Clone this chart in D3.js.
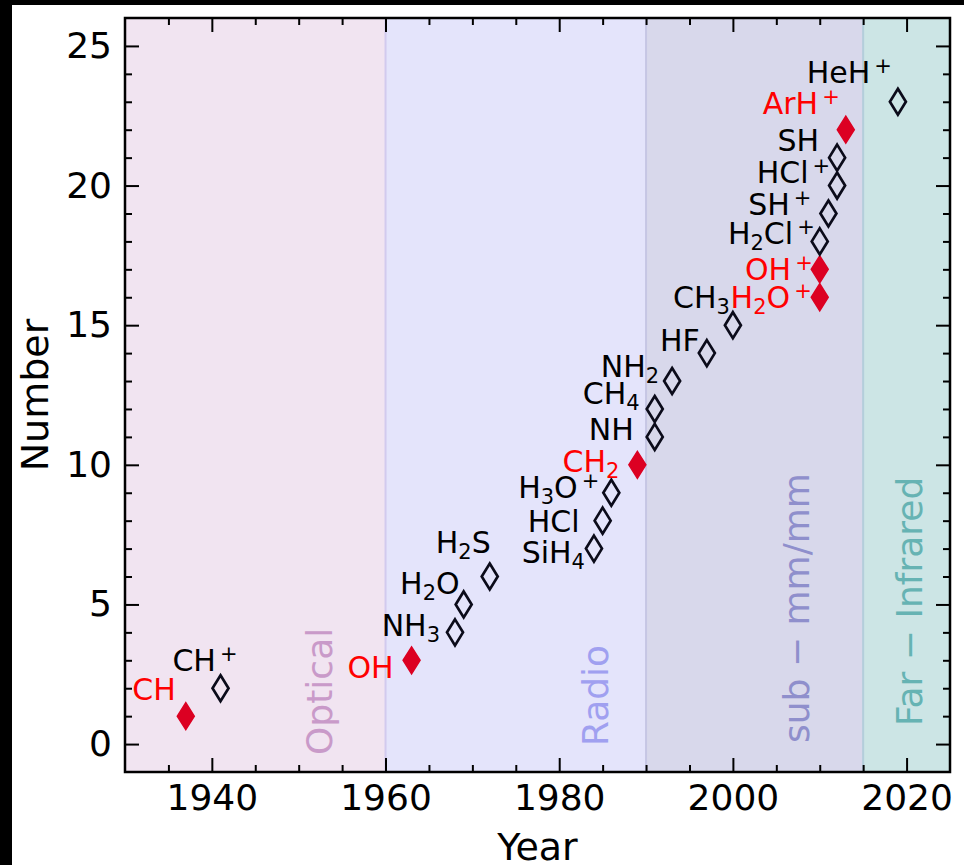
<!DOCTYPE html>
<html>
<head>
<meta charset="utf-8">
<script src="https://cdn.jsdelivr.net/npm/d3@7"></script>
<style>
  html, body { margin: 0; padding: 0; background: #000; }
  svg { display: block; }
  text { font-family: "DejaVu Sans", sans-serif; }
</style>
</head>
<body>
<svg id="chart" width="964" height="865"></svg>
<script>
// Hydride detections in the interstellar medium: year vs running count
const years   = [1937, 1941, 1963, 1968, 1969, 1972, 1984, 1985, 1986, 1989, 1991, 1991,
                 1993, 1997, 2000, 2010, 2010, 2010, 2011, 2012, 2012, 2013, 2019];
const counts  = [1, 2, 3, 4, 5, 6, 7, 8, 9, 10, 11, 12, 13, 14, 15, 16, 17, 18, 19, 20, 21, 22, 23];
const species = ["CH", "CH^+", "OH", "NH_3", "H_2O", "H_2S", "SiH_4", "HCl", "H_3O^+", "CH_2",
                 "NH", "CH_4", "NH_2", "HF", "CH_3", "H_2O^+", "OH^+", "H_2Cl^+", "SH^+",
                 "HCl^+", "SH", "ArH^+", "HeH^+"];
const highlighted = [true, false, true, false, false, false, false, false, false, true, false, false,
                     false, false, false, true, true, false, false, false, false, true, false];

// Spectral windows used for the detections
const bandNames = ["Optical", "Radio", "sub \u2212 mm/mm", "Far \u2212 Infrared"];
const bandStart = [1930, 1960, 1990, 2015];
const bandEnd   = [1960, 1990, 2015, 2025];

const xTicks = [1940, 1960, 1980, 2000, 2020];
const yTicks = [0, 5, 10, 15, 20, 25];

// ---- layout ----
const W = 964, H = 865;
const plot = { left: 125, right: 950, top: 18, bottom: 772 };
const bandFill   = ["#f1e4f1", "#e4e4fb", "#d8d8eb", "#cce5e5"];
const bandEdge   = [null, "#d2caee", "#c6c6e4", "#b4cedb"];
const bandText   = ["#c99ac9", "#a0a0f0", "#8f8fcc", "#66b3b3"];
// anchor of each rotated band caption, in data units [year, count]
const bandLabelAt = [[1953.8, -0.39], [1985.6, -0.07], [2008.8, 0.04], [2021.8, 0.65]];
// pixel nudges of each species label (right end, baseline) from its marker
const labelShift = [[-10, -16], [17, -17], [-18, 18], [-15, 4], [-4, -10], [1, -24], [-9, 14],
                    [-23, 11], [-12, 5], [-18, 7], [-21, 3], [-15, -5], [-13, -4], [-7, -2],
                    [-3, -17], [-8, 11], [-7, 11], [-5, 3], [-17, 2], [-7, -3], [-18, -7],
                    [-6, -16], [-6, -19]];

const svg = d3.select("#chart");
svg.append("rect").attr("x", 12).attr("y", 5).attr("width", W - 12).attr("height", H - 5).attr("fill", "#fff");

const x = d3.scaleLinear().domain([1930, 2025]).range([plot.left, plot.right]);
const y = d3.scaleLinear().domain([-1, 26]).range([plot.bottom, plot.top]);

// background bands
const bands = svg.append("g");
bandNames.forEach((name, i) => {
  bands.append("rect")
    .attr("x", x(bandStart[i])).attr("y", plot.top)
    .attr("width", x(bandEnd[i]) - x(bandStart[i]))
    .attr("height", plot.bottom - plot.top)
    .attr("fill", bandFill[i]);
});
bandNames.forEach((name, i) => {
  if (!bandEdge[i]) return;
  bands.append("line")
    .attr("x1", x(bandStart[i])).attr("x2", x(bandStart[i]))
    .attr("y1", plot.top).attr("y2", plot.bottom)
    .attr("stroke", bandEdge[i]).attr("stroke-width", 2);
});
bandNames.forEach((name, i) => {
  const [bx, by] = bandLabelAt[i];
  bands.append("text")
    .attr("transform", `translate(${x(bx)},${y(by)}) rotate(-90)`)
    .attr("font-size", 36)
    .attr("fill", bandText[i])
    .text(name);
});

// species markers
const diamond = (w, h) => `M0,${-h / 2}L${w / 2},0L0,${h / 2}L${-w / 2},0Z`;
const marks = svg.append("g");
years.forEach((yr, i) => {
  const p = marks.append("path")
    .attr("transform", `translate(${x(yr)},${y(counts[i])})`);
  if (highlighted[i]) {
    p.attr("d", diamond(17, 27)).attr("fill", "#dc0022").attr("stroke", "#dc0022").attr("stroke-width", 1.5);
  } else {
    p.attr("d", diamond(16, 26)).attr("fill", "none").attr("stroke", "#0b0b1a").attr("stroke-width", 2.7);
  }
});

// species labels with sub/superscripts; "_x" lowers one character, "^+" raises a plus
function addFormula(sel, formula) {
  const re = /([^_^]+)|_(\w)|\^(\+)/g;
  let m, carry = 0;
  while ((m = re.exec(formula)) !== null) {
    let ts;
    if (m[1]) {
      ts = sel.append("tspan").text(m[1]);
      if (carry) ts.attr("dy", carry);
      carry = 0;
    } else if (m[2]) {
      ts = sel.append("tspan").attr("font-size", 21).attr("dy", 6 + carry).text(m[2]);
      carry = -6;
    } else if (m[3]) {
      ts = sel.append("tspan").attr("font-size", 21).attr("dx", 4).attr("dy", -10 + carry).text("+");
      carry = 10;
    }
  }
}
const labels = svg.append("g");
years.forEach((yr, i) => {
  const t = labels.append("text")
    .attr("x", x(yr) + labelShift[i][0])
    .attr("y", y(counts[i]) + labelShift[i][1])
    .attr("text-anchor", "end")
    .attr("font-size", 30)
    .attr("fill", highlighted[i] ? "#ff0000" : "#000");
  addFormula(t, species[i]);
});

// axes: inward ticks on all four sides
const xMinor = d3.range(1935, 2025, 5).filter(v => !xTicks.includes(v));
const yMinor = d3.range(0, 26, 1).filter(v => !yTicks.includes(v));

function styleAxis(g) {
  g.select(".domain").remove();
  g.selectAll(".tick line").attr("stroke", "#000").attr("stroke-width", 2);
  g.selectAll(".tick text").attr("font-size", 36).attr("fill", "#000")
    .attr("font-family", "DejaVu Sans, sans-serif");
}
function noLabels(g) {
  g.selectAll(".tick text").remove();
}
const axes = svg.append("g");
axes.append("g").attr("transform", `translate(0,${plot.bottom})`)
  .call(d3.axisBottom(x).tickValues(xTicks).tickFormat(d3.format("d")).tickSizeInner(-14).tickSizeOuter(0).tickPadding(12))
  .call(styleAxis);
axes.append("g").attr("transform", `translate(0,${plot.bottom})`)
  .call(d3.axisBottom(x).tickValues(xMinor).tickSizeInner(-7).tickSizeOuter(0))
  .call(styleAxis).call(noLabels);
axes.append("g").attr("transform", `translate(0,${plot.top})`)
  .call(d3.axisTop(x).tickValues(xTicks).tickSizeInner(-14).tickSizeOuter(0))
  .call(styleAxis).call(noLabels);
axes.append("g").attr("transform", `translate(0,${plot.top})`)
  .call(d3.axisTop(x).tickValues(xMinor).tickSizeInner(-7).tickSizeOuter(0))
  .call(styleAxis).call(noLabels);
axes.append("g").attr("transform", `translate(${plot.left},0)`)
  .call(d3.axisLeft(y).tickValues(yTicks).tickFormat(d3.format("d")).tickSizeInner(-14).tickSizeOuter(0).tickPadding(13))
  .call(styleAxis);
axes.append("g").attr("transform", `translate(${plot.left},0)`)
  .call(d3.axisLeft(y).tickValues(yMinor).tickSizeInner(-7).tickSizeOuter(0))
  .call(styleAxis).call(noLabels);
axes.append("g").attr("transform", `translate(${plot.right},0)`)
  .call(d3.axisRight(y).tickValues(yTicks).tickSizeInner(-14).tickSizeOuter(0))
  .call(styleAxis).call(noLabels);
axes.append("g").attr("transform", `translate(${plot.right},0)`)
  .call(d3.axisRight(y).tickValues(yMinor).tickSizeInner(-7).tickSizeOuter(0))
  .call(styleAxis).call(noLabels);

axes.append("rect")
  .attr("x", plot.left).attr("y", plot.top)
  .attr("width", plot.right - plot.left).attr("height", plot.bottom - plot.top)
  .attr("fill", "none").attr("stroke", "#000").attr("stroke-width", 2.5);

// axis titles
svg.append("text")
  .attr("x", (plot.left + plot.right) / 2).attr("y", 860)
  .attr("text-anchor", "middle").attr("font-size", 38).attr("fill", "#000")
  .text("Year");
svg.append("text")
  .attr("transform", `translate(48,${(plot.top + plot.bottom) / 2}) rotate(-90)`)
  .attr("text-anchor", "middle").attr("font-size", 38).attr("fill", "#000")
  .text("Number");
</script>
</body>
</html>
